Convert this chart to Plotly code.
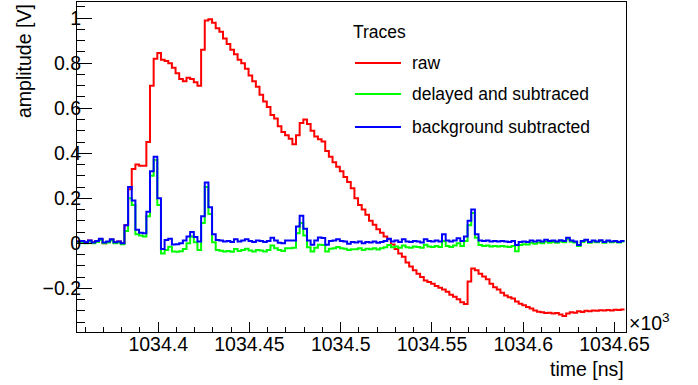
import numpy as np
import plotly.graph_objects as go

# Sampling grid of the traces (ns)
BIN_START_NS = 1034355.5
BIN_WIDTH_NS = 2.0

# Raw trace [V], one value per sample bin
raw = [
    0.008, 0.010, 0.004, 0.012, 0.005, 0.010, 0.018, 0.000, 0.006, 0.016,
    0.005, 0.008, 0.000, 0.080, 0.240, 0.330, 0.350, 0.345, 0.345, 0.450,
    0.700, 0.820, 0.845, 0.815, 0.810, 0.800, 0.780, 0.755, 0.730, 0.720,
    0.735, 0.730, 0.715, 0.700, 0.860, 0.990, 0.995, 0.980, 0.955, 0.940,
    0.910, 0.885, 0.860, 0.840, 0.815, 0.800, 0.775, 0.745, 0.720, 0.695,
    0.660, 0.630, 0.605, 0.570, 0.555, 0.520, 0.495, 0.480, 0.465, 0.440,
    0.480, 0.535, 0.550, 0.530, 0.500, 0.475, 0.462, 0.452, 0.410, 0.385,
    0.360, 0.340, 0.320, 0.295, 0.272, 0.245, 0.200, 0.170, 0.150, 0.127,
    0.100, 0.082, 0.063, 0.047, 0.030, 0.018, -0.005, -0.025, -0.045, -0.060,
    -0.085, -0.103, -0.120, -0.135, -0.150, -0.165, -0.172, -0.180, -0.190, -0.197,
    -0.205, -0.215, -0.228, -0.237, -0.248, -0.262, -0.270, -0.170, -0.112, -0.120,
    -0.135, -0.148, -0.160, -0.180, -0.195, -0.205, -0.220, -0.232, -0.240, -0.245,
    -0.258, -0.268, -0.275, -0.283, -0.290, -0.298, -0.304, -0.306, -0.310, -0.308,
    -0.312, -0.310, -0.316, -0.323, -0.312, -0.306, -0.308, -0.302, -0.305, -0.300,
    -0.302, -0.298, -0.300, -0.297, -0.299, -0.296, -0.298, -0.295, -0.296, -0.294,
]

# Delayed-and-subtracted trace [V]
delayed = [
    0.004, 0.006, 0.000, 0.008, 0.000, 0.006, 0.015, 0.000, 0.004, 0.013,
    0.000, 0.004, -0.004, 0.055, 0.200, 0.170, 0.040, 0.035, 0.030, 0.120,
    0.300, 0.370, 0.170, -0.045, -0.030, -0.015, -0.036, -0.038, -0.035, -0.025,
    0.000, 0.030, 0.005, -0.030, 0.090, 0.250, 0.130, 0.005, -0.030, -0.033,
    -0.036, -0.034, -0.038, -0.025, -0.034, -0.030, -0.024, -0.032, -0.036, -0.030,
    -0.032, -0.036, -0.030, -0.010, -0.022, -0.030, -0.034, -0.022, -0.022, -0.020,
    0.045, 0.090, 0.035, -0.018, -0.036, -0.020, -0.006, -0.008, -0.036, -0.024,
    -0.022, -0.016, -0.022, -0.024, -0.030, -0.026, -0.026, -0.022, -0.030, -0.024,
    -0.026, -0.022, -0.028, -0.022, -0.018, -0.008, -0.018, -0.014, -0.020, -0.010,
    -0.018, -0.020, -0.014, -0.016, -0.020, -0.006, -0.014, -0.016, -0.012, -0.016,
    0.010, -0.012, -0.016, -0.010, 0.000, -0.012, 0.010, 0.080, 0.135, 0.025,
    -0.008, -0.012, -0.010, -0.014, -0.012, -0.014, -0.012, -0.014, -0.016, -0.012,
    -0.035, -0.008, -0.004, -0.005, 0.002, -0.002, 0.004, 0.000, 0.008, 0.003,
    0.006, 0.002, 0.008, 0.005, 0.018, 0.007, 0.004, -0.012, 0.006, 0.012,
    0.002, 0.008, 0.005, 0.010, 0.003, 0.009, 0.005, 0.008, 0.004, 0.008,
]

# Background-subtracted trace [V]
background = [
    0.008, 0.010, 0.005, 0.012, 0.004, 0.010, 0.020, 0.004, 0.008, 0.018,
    0.005, 0.008, 0.000, 0.080, 0.250, 0.190, 0.060, 0.047, 0.045, 0.140,
    0.320, 0.385, 0.200, -0.025, 0.015, 0.020, -0.005, -0.004, 0.000, 0.012,
    0.030, 0.050, 0.028, 0.008, 0.120, 0.270, 0.160, 0.040, 0.015, 0.012,
    0.008, 0.010, 0.006, 0.018, 0.008, 0.012, 0.018, 0.010, 0.006, 0.012,
    0.010, 0.006, 0.010, 0.025, 0.012, 0.003, 0.000, 0.012, 0.012, 0.012,
    0.075, 0.122, 0.065, 0.012, -0.006, 0.012, 0.026, 0.024, -0.006, 0.010,
    0.012, 0.018, 0.010, 0.008, -0.002, 0.006, 0.004, 0.008, 0.000, 0.006,
    0.004, 0.008, 0.002, 0.006, 0.010, 0.020, 0.008, 0.012, 0.006, 0.018,
    0.008, 0.006, 0.010, 0.008, 0.004, 0.018, 0.010, 0.008, 0.012, 0.008,
    0.040, 0.012, 0.008, 0.012, 0.022, 0.010, 0.030, 0.100, 0.150, 0.040,
    0.012, 0.010, 0.012, 0.008, 0.010, 0.008, 0.010, 0.008, 0.006, 0.010,
    -0.008, 0.006, 0.008, 0.006, 0.012, 0.008, 0.012, 0.008, 0.016, 0.010,
    0.012, 0.008, 0.014, 0.010, 0.025, 0.012, 0.008, -0.008, 0.010, 0.016,
    0.006, 0.012, 0.008, 0.014, 0.006, 0.012, 0.008, 0.010, 0.006, 0.010,
]

series_names = ["raw", "delayed and subtraced", "background subtracted"]
series_colors = ["#ff0000", "#00ff00", "#0000ff"]

x_tickvals = [1034.4, 1034.45, 1034.5, 1034.55, 1034.6, 1034.65]
x_ticktext = ["1034.4", "1034.45", "1034.5", "1034.55", "1034.6", "1034.65"]
y_tickvals = [-0.2, 0, 0.2, 0.4, 0.6, 0.8, 1.0]
y_ticktext = ["\u22120.2", "0", "0.2", "0.4", "0.6", "0.8", "1"]

FONT = "Liberation Sans, Arial, Helvetica, sans-serif"
LABEL_SIZE = 19.5
LEGEND_SIZE = 17.5

n_bins = len(raw)
edges_us = (BIN_START_NS + BIN_WIDTH_NS * np.arange(n_bins + 1)) / 1000.0


def step(values):
    # histogram-style outline: repeat last value up to the final bin edge
    v = list(values)
    return v + [v[-1]]


fig = go.Figure()
for vals, name, col in zip([raw, delayed, background], series_names, series_colors):
    fig.add_trace(go.Scatter(
        x=edges_us, y=step(vals), mode="lines", name=name,
        line=dict(color=col, width=2, shape="hv"),
        showlegend=False, hoverinfo="skip",
    ))

W, H = 698, 385
L, R, T, B = 77, 72, 2, 53
pw, ph = W - L - R, H - T - B


def px_x(x):
    return (x - L) / pw


def px_y(y):
    return (H - B - y) / ph


axis_common = dict(
    showline=True, linecolor="black", linewidth=1, mirror=True,
    showgrid=False, zeroline=False, ticks="inside", tickcolor="black",
    tickwidth=1, tickfont=dict(family=FONT, size=LABEL_SIZE, color="black"),
)

fig.update_xaxes(
    range=[1034.3555, 1034.6563],
    tickmode="array", tickvals=x_tickvals, ticktext=x_ticktext, ticklen=10,
    minor=dict(ticks="inside", ticklen=5, tick0=1034.4, dtick=0.01, tickcolor="black"),
    ticklabelstandoff=-5,
    **axis_common,
)
fig.update_yaxes(
    range=[-0.394, 1.072],
    tickmode="array", tickvals=y_tickvals, ticktext=y_ticktext, ticklen=15,
    minor=dict(ticks="inside", ticklen=8, tick0=0, dtick=0.05, tickcolor="black"),
    ticklabelstandoff=-9,
    **axis_common,
)

annotations = [
    dict(text="time [ns]", x=1.0, y=px_y(369), xanchor="right", yanchor="middle",
         font=dict(size=LABEL_SIZE)),
    dict(text="amplitude [V]", x=px_x(24), y=1.0, xanchor="center", yanchor="top",
         textangle=-90, font=dict(size=LABEL_SIZE)),
    dict(text="\u00d710<sup>3</sup>", x=px_x(627), y=px_y(322), xanchor="left",
         yanchor="middle", font=dict(size=LABEL_SIZE)),
    dict(text="Traces", x=px_x(351), y=px_y(32), xanchor="left", yanchor="middle",
         font=dict(size=LEGEND_SIZE)),
]
shapes = []
legend_rows = [63, 94, 127]
for name, col, row in zip(series_names, series_colors, legend_rows):
    shapes.append(dict(type="line", xref="paper", yref="paper",
                       x0=px_x(355), x1=px_x(401), y0=px_y(row), y1=px_y(row),
                       line=dict(color=col, width=2)))
    annotations.append(dict(text=name, x=px_x(410), y=px_y(row), xanchor="left",
                            yanchor="middle", font=dict(size=LEGEND_SIZE)))

for a in annotations:
    a.update(xref="paper", yref="paper", showarrow=False)
    a["font"].update(family=FONT, color="black")

fig.update_layout(
    width=W, height=H,
    margin=dict(l=L, r=R, t=T, b=B),
    paper_bgcolor="white", plot_bgcolor="white",
    annotations=annotations, shapes=shapes,
    showlegend=False,
)

fig.write_html("out.html")
